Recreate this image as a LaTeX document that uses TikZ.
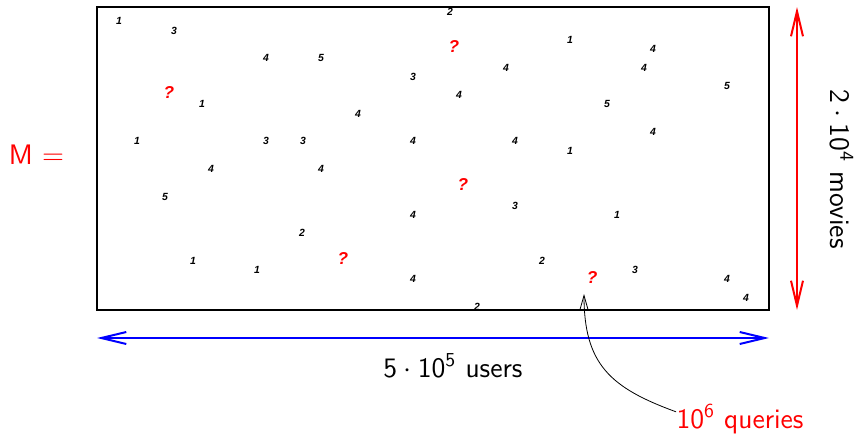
\documentclass[tikz,border=0pt]{standalone}
\usepackage{fontspec}
\usepackage{tikz}
\usetikzlibrary{arrows.meta}
\newfontfamily\cellfont{Liberation Sans}

\begin{document}
\begin{tikzpicture}[x=0.5pt,y=0.5pt,
  cell/.style={font=\fontsize{5.2}{6}\cellfont\bfseries\itshape,inner sep=0pt},
  missing/.style={font=\fontsize{8.6}{10}\cellfont\bfseries\itshape,text=red,inner sep=0pt},
  lbl/.style={font=\fontsize{14.1}{16}\sffamily,inner sep=0pt},
  dimarrow/.style={line width=1pt,{Straight Barb[length=12.5pt,width=6pt]}-{Straight Barb[length=12.5pt,width=6pt]}}]
\useasboundingbox (0,0) rectangle (858,-435);
\node[draw,line width=1pt,outer sep=0pt,minimum width=336pt,minimum height=151.5pt] (mat) at (433,-158.5) {};

\foreach \x/\y/\v [count=\i] in {119/21/1,174/31/3,266/58/4,321/58/5,202/104/1,358/114/4,
  137/141/1,266/141/3,303/141/3,450/12/2,570/40/1,653/49/4,506/68/4,644/68/4,413/77/3,
  727/86/5,459/95/4,607/104/5,653/132/4,413/141/4,515/141/4,570/151/1,211/169/4,321/169/4,
  165/197/5,302/233/2,193/261/1,257/270/1,413/215/4,515/206/3,617/215/1,542/261/2,
  635/270/3,413/279/4,727/279/4,746/298/4,477/307/2}
  \node[cell] (c\i) at (\x,-\y) {\v};
\foreach \x/\y [count=\i] in {169/92,454/46,463/184,343/258,592/277}
  \node[missing] (q\i) at (\x,-\y) {?};

\node[lbl,text=red,anchor=base] (mlabel) at (36.5,-164) {M $=$};
\node[lbl,anchor=base] (users) at (453,-377) {5\:$\cdot$\:10\textsuperscript{5} users};
\node[lbl,anchor=base,rotate=-90] (movies) at (830,-169) {2\:$\cdot$\:10\textsuperscript{4} movies};
\node[lbl,text=red,anchor=base] (qry) at (740,-428) {10\textsuperscript{6} queries};

\draw[dimarrow,red] ([xshift=14pt]mat.north east) -- ([xshift=14pt]mat.south east);
\draw[dimarrow,blue] ([yshift=-14pt]mat.south west) -- ([yshift=-14pt]mat.south east);
\draw[thin,-{Straight Barb[length=7pt,width=4pt]}] ([yshift=3.5pt]qry.west) to[out=160,in=-90,looseness=1.2] ([xshift=-4pt,yshift=-5.3pt]q5.south);
\end{tikzpicture}
\end{document}
